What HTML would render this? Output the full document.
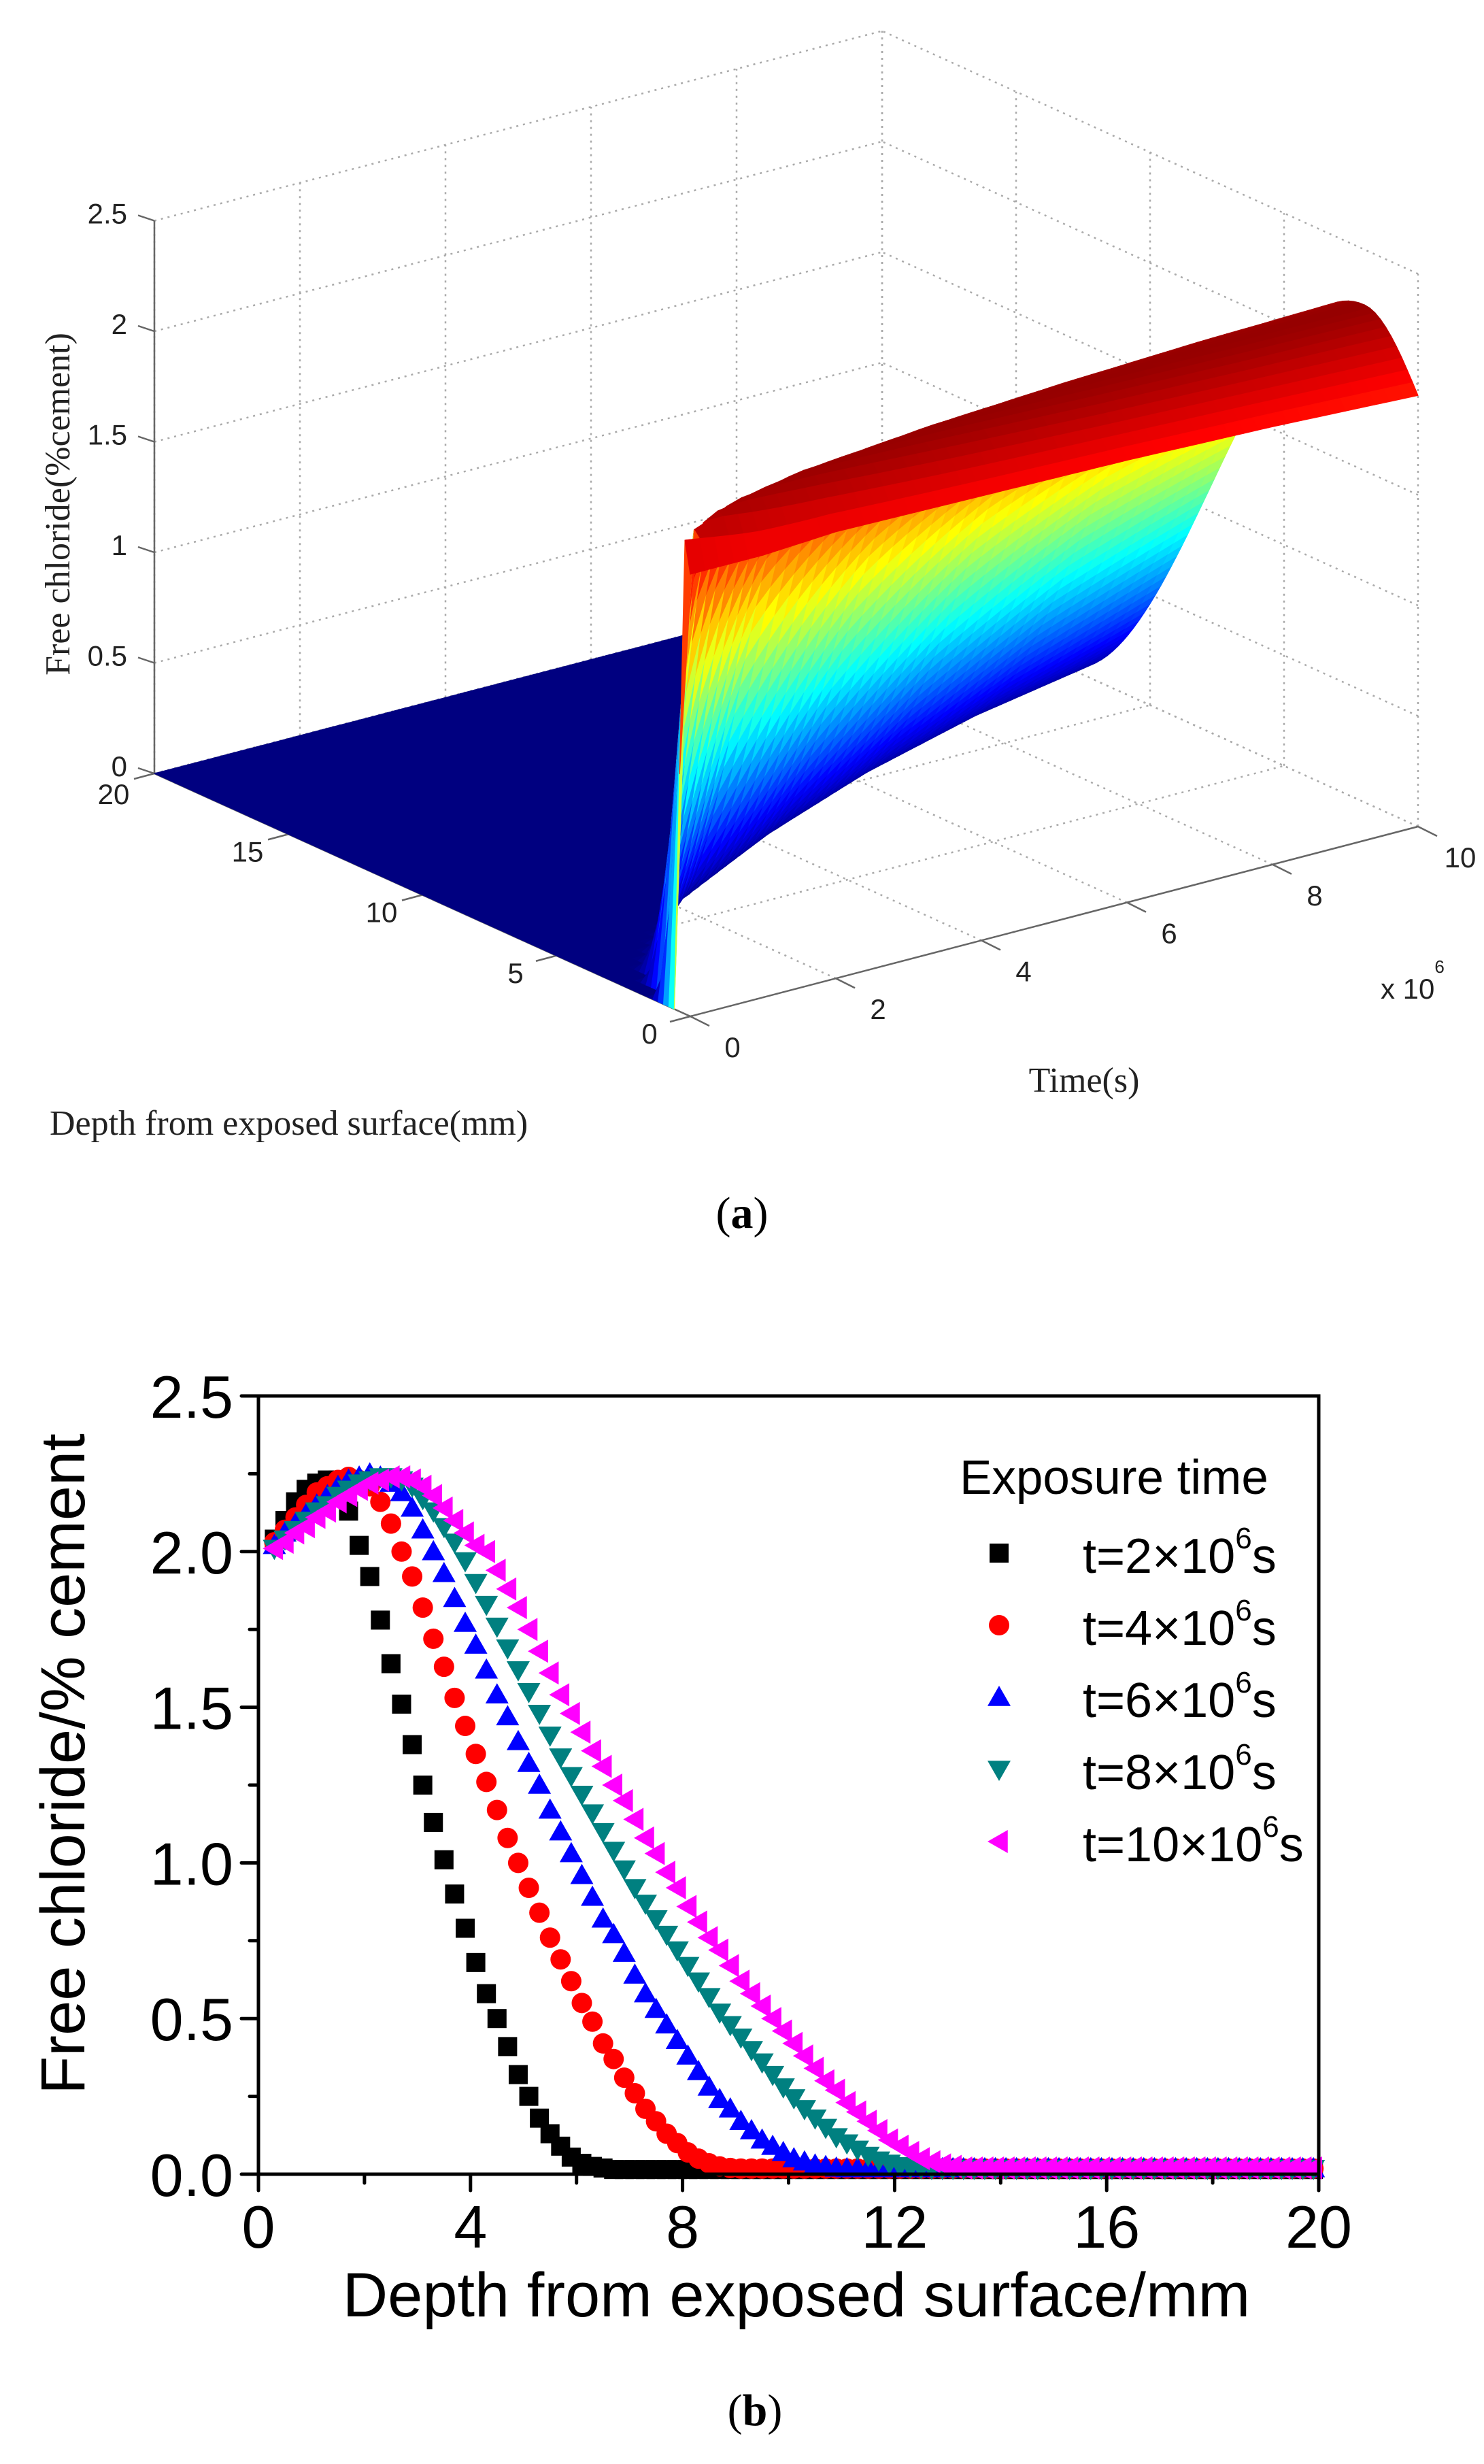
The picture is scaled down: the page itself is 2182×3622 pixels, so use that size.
<!DOCTYPE html>
<html><head><meta charset="utf-8">
<style>
html,body{margin:0;padding:0;background:#fff;}
svg{display:block;}
</style></head>
<body>
<svg id="fig" width="2182" height="3622" viewBox="0 0 2182 3622" xmlns="http://www.w3.org/2000/svg">
<rect x="0" y="0" width="2182" height="3622" fill="#fff"/>
<g id="plotA">
 <g id="aGrid"></g>
 <g id="aAxes"></g>
 <g id="aSurf"></g>
 <g id="aLabels" font-family="Liberation Sans, sans-serif" font-size="42" fill="#222"></g>
 <text transform="translate(102,741) rotate(-90)" text-anchor="middle" font-family="Liberation Serif, serif" font-size="52" fill="#222">Free chloride(%cement)</text>
 <text x="73" y="1668" font-family="Liberation Serif, serif" font-size="52" fill="#222">Depth from exposed surface(mm)</text>
 <text x="1594" y="1605" text-anchor="middle" font-family="Liberation Serif, serif" font-size="52" fill="#222">Time(s)</text>
 <text x="2030" y="1468" font-family="Liberation Sans, sans-serif" font-size="42" fill="#222">x 10<tspan font-size="26" dy="-38">6</tspan></text>
 <text x="1091" y="1805" text-anchor="middle" font-family="Liberation Serif, serif" font-size="66" fill="#000">(<tspan font-weight="bold">a</tspan>)</text>
</g>
<g id="plotB">
 <g id="bMarks"></g>
 <g id="bAxes"></g>
 <g id="bLegend"></g>
 <text transform="translate(124,2593) rotate(-90)" text-anchor="middle" font-family="Liberation Sans, sans-serif" font-size="92" fill="#000">Free chloride/% cement</text>
 <text x="1171" y="3405" text-anchor="middle" font-family="Liberation Sans, sans-serif" font-size="92" fill="#000">Depth from exposed surface/mm</text>
 <text x="1110" y="3565" text-anchor="middle" font-family="Liberation Serif, serif" font-size="66" fill="#000">(<tspan font-weight="bold">b</tspan>)</text>
</g>
</svg>
<script>
// ---------- Plot (b) data ----------
const depths = [0.3,0.5,0.7,0.9,1.1,1.3,1.5,1.7,1.9,2.1,2.3,2.5,2.7,2.9,3.1,3.3,3.5,3.7,3.9,4.1,4.3,4.5,4.7,4.9,5.1,5.3,5.5,5.7,5.9,6.1,6.3,6.5,6.7,6.9,7.1,7.3,7.5,7.7,7.9,8.1,8.3,8.5,8.7,8.9,9.1,9.3,9.5,9.7,9.9,10.1,10.3,10.5,10.7,10.9,11.1,11.3,11.5,11.7,11.9,12.1,12.3,12.5,12.7,12.9,13.1,13.3,13.5,13.7,13.9,14.1,14.3,14.5,14.7,14.9,15.1,15.3,15.5,15.7,15.9,16.1,16.3,16.5,16.7,16.9,17.1,17.3,17.5,17.7,17.9,18.1,18.3,18.5,18.7,18.9,19.1,19.3,19.5,19.7,19.9];
const seriesT2 = [2.04,2.10,2.16,2.20,2.22,2.23,2.23,2.13,2.02,1.92,1.78,1.64,1.51,1.38,1.25,1.13,1.01,0.90,0.79,0.68,0.58,0.50,0.41,0.32,0.25,0.18,0.13,0.09,0.055,0.035,0.025,0.02,
0.015,0.015,0.015,0.015,0.015,0.015,0.015,0.015,0.015,0.015,0.015,0.015,0.015,0.015,0.015,0.015,0.015,0.015,0.015,0.015,0.015,0.015,0.015,0.015,0.015,0.015,0.015,0.015,0.015,0.015,0.015,0.015,0.015,0.015,0.015,0.015,0.015,0.015,0.015,0.015,0.015,0.015,0.015,0.015,0.015,0.015,0.015,0.015,0.015,0.015,0.015,0.015,0.015,0.015,0.015,0.015,0.015,0.015,0.015,0.015,0.015,0.015,0.015,0.015,0.015,0.015,0.015];
const seriesT4 = [2.03,2.07,2.11,2.15,2.19,2.21,2.23,2.24,2.23,2.21,2.16,2.09,2.00,1.92,1.82,1.72,1.63,1.53,1.44,1.35,1.26,1.17,1.08,1.00,0.92,0.84,0.76,0.69,0.62,0.55,0.49,0.42,0.37,0.31,0.26,0.21,0.17,0.13,0.10,0.07,0.05,0.035,0.025,0.02,
0.018,0.018,0.018,0.018,0.018,0.018,0.018,0.018,0.018,0.018,0.018,0.018,0.018,0.018,0.018,0.018,0.018,0.018,0.018,0.018,0.018,0.018,0.018,0.018,0.018,0.018,0.018,0.018,0.018,0.018,0.018,0.018,0.018,0.018,0.018,0.018,0.018,0.018,0.018,0.018,0.018,0.018,0.018,0.018,0.018,0.018,0.018,0.018,0.018,0.018,0.018,0.018,0.018,0.018,0.018];
const seriesT6 = [2.02,2.06,2.09,2.12,2.15,2.18,2.21,2.23,2.24,2.25,2.24,2.22,2.19,2.14,2.07,2.00,1.93,1.85,1.77,1.70,1.62,1.54,1.47,1.39,1.32,1.25,1.17,1.10,1.03,0.96,0.89,0.82,0.77,0.71,0.64,0.58,0.53,0.48,0.43,0.38,0.33,0.28,0.24,0.21,0.17,0.14,0.11,0.09,0.07,0.05,0.04,0.03,0.025,0.02,
0.018,0.018,0.018,0.018,0.018,0.018,0.018,0.018,0.018,0.018,0.018,0.018,0.018,0.018,0.018,0.018,0.018,0.018,0.018,0.018,0.018,0.018,0.018,0.018,0.018,0.018,0.018,0.018,0.018,0.018,0.018,0.018,0.018,0.018,0.018,0.018,0.018,0.018,0.018,0.018,0.018,0.018,0.018,0.018,0.018];
const seriesT8 = [2.01,2.04,2.07,2.10,2.13,2.15,2.18,2.20,2.22,2.23,2.24,2.24,2.23,2.21,2.17,2.13,2.08,
2.03,1.97,1.90,1.83,1.76,1.69,1.62,1.55,1.48,1.41,1.34,1.28,1.22,1.16,1.10,1.04,0.98,0.92,0.87,0.82,0.77,0.72,0.67,0.62,0.57,0.52,0.48,0.44,0.40,0.36,0.32,0.28,0.245,0.21,0.18,0.15,0.12,0.10,0.08,0.06,0.045,0.035,0.027,0.022,0.02,
0.018,0.018,0.018,0.018,0.018,0.018,0.018,0.018,0.018,0.018,0.018,0.018,0.018,0.018,0.018,0.018,0.018,0.018,0.018,0.018,0.018,0.018,0.018,0.018,0.018,0.018,0.018,0.018,0.018,0.018,0.018,0.018,0.018,0.018,0.018,0.018,0.018];
const seriesT10 = [2.01,2.03,2.06,2.08,2.11,2.13,2.16,2.18,2.20,2.22,2.23,2.24,2.24,2.23,2.21,2.18,2.14,2.10,2.06,2.02,2.00,1.94,1.88,1.82,1.75,1.68,1.61,1.54,1.48,1.42,1.36,1.31,1.25,1.20,1.14,1.08,1.03,0.97,0.92,0.86,0.81,0.76,0.72,0.67,0.62,0.58,0.54,0.50,0.46,0.42,0.38,0.34,0.30,0.27,0.23,0.20,0.17,0.14,0.11,0.09,0.07,0.05,0.04,0.03,0.025,0.02,0.02,0.02,0.02,0.02,
0.02,0.02,0.02,0.02,0.02,0.02,0.02,0.02,0.02,0.02,0.02,0.02,0.02,0.02,0.02,0.02,0.02,0.02,0.02,0.02,0.02,0.02,0.02,0.02,0.02,0.02,0.02,0.02,0.02];
const seriesNames = ["t=2","t=4","t=6","t=8","t=10"];
const xTicks = [0,4,8,12,16,20];
const yTicks = [0.0,0.5,1.0,1.5,2.0,2.5];
const yTickLabels = ["0.0","0.5","1.0","1.5","2.0","2.5"];

// ---------- Plot (a) surface data ----------
const surfTimes = [0,0.5,1,2,4,6,8,10];
const surfEdge = [2.0,2.0,2.0,2.02,2.01,2.0,1.98,1.95];
const surfPeak = [2.15,2.2,2.22,2.24,2.25,2.25,2.25,2.25];
const surfPeakDepth = [0.25,0.5,0.7,1.0,1.4,1.7,1.9,2.0];
const surfZeroDepth = [0.55,3.2,4.3,6.2,8.6,10.6,12.2,13.4];
const zTicks3d = [0,0.5,1,1.5,2,2.5];
const zTickLabels3d = ["0","0.5","1","1.5","2","2.5"];
const dTicks3d = [0,5,10,15,20];
const tTicks3d = [0,2,4,6,8,10];

const NS = "http://www.w3.org/2000/svg";
function mk(tag, attrs, parent){
  const e = document.createElementNS(NS, tag);
  for (const k in attrs) e.setAttribute(k, attrs[k]);
  parent.appendChild(e);
  return e;
}

// ===== Plot (b) =====
const X0=380, X1=1939, Y0=3196, Y1=2052;
function xs(v){ return X0 + (v/20)*(X1-X0); }
function ys(v){ return Y0 - (v/2.5)*(Y0-Y1); }
const bMarks = document.getElementById('bMarks');
const bAxes = document.getElementById('bAxes');
const bLegend = document.getElementById('bLegend');
const colors = ["#000000","#ff0000","#0000ff","#008080","#ff00ff"];
const shapes = ["square","circle","up","down","left"];
const allSeries = [seriesT2, seriesT4, seriesT6, seriesT8, seriesT10];

function marker(shape, cx, cy, color, parent){
  const s = 14;
  let e;
  if (shape==="square") e = mk('rect',{x:cx-s,y:cy-s,width:2*s,height:2*s,fill:color},parent);
  else if (shape==="circle") e = mk('circle',{cx:cx,cy:cy,r:s+1,fill:color},parent);
  else {
    let pts;
    const r=17;
    if (shape==="up") pts=[[cx,cy-r],[cx+r,cy+r*0.75],[cx-r,cy+r*0.75]];
    else if (shape==="down") pts=[[cx,cy+r],[cx+r,cy-r*0.75],[cx-r,cy-r*0.75]];
    else pts=[[cx-r,cy],[cx+r*0.75,cy-r],[cx+r*0.75,cy+r]];
    e = mk('polygon',{points:pts.map(p=>p.join(',')).join(' '),fill:color},parent);
  }
  return e;
}

allSeries.forEach((ser, si) => {
  const g = mk('g',{},bMarks);
  
  
  const n = Math.min(ser.length, depths.length);
  for (let i=0;i<n;i++){
    const m = marker(shapes[si], xs(depths[i]), ys(ser[i]), colors[si], g);
    
    
  }
});

const frame = mk('rect',{x:X0,y:Y1,width:X1-X0,height:Y0-Y1,fill:'none',stroke:'#000','stroke-width':5},bAxes);


for (let v=0; v<=20.001; v+=2){
  const major = Math.abs(v/4-Math.round(v/4))<1e-6;
  const t = mk('line',{x1:xs(v),y1:Y0,x2:xs(v),y2:Y0+(major?24:13),stroke:'#000','stroke-width':5,'stroke-linecap':'round'},bAxes);
  
  
}
for (let v=0; v<=2.5001; v+=0.25){
  const major = Math.abs(v/0.5-Math.round(v/0.5))<1e-6;
  const t = mk('line',{x1:X0,y1:ys(v),x2:X0-(major?25:13),y2:ys(v),stroke:'#000','stroke-width':5,'stroke-linecap':'round'},bAxes);
  
  
}
xTicks.forEach(v=>{
  const t = mk('text',{x:xs(v),y:3304,'text-anchor':'middle','font-family':'Liberation Sans, sans-serif','font-size':88},bAxes);
  t.textContent = String(v);
  
  
});
yTicks.forEach((v,i)=>{
  const t = mk('text',{x:343,y:ys(v)+32,'text-anchor':'end','font-family':'Liberation Sans, sans-serif','font-size':88},bAxes);
  t.textContent = yTickLabels[i];
  
  
});

const lt = mk('text',{x:1411,y:2196,'font-family':'Liberation Sans, sans-serif','font-size':71},bLegend);
lt.textContent = 'Exposure time';


const legendNums = ["2","4","6","8","10"];
legendNums.forEach((num,i)=>{
  const cy = 2283 + i*106;
  const g = mk('g',{},bLegend);
  
  
  marker(shapes[i], 1469, cy, colors[i], g);
  const t = mk('text',{x:1592,y:cy+29,'font-family':'Liberation Sans, sans-serif','font-size':72},g);
  t.appendChild(document.createTextNode('t=' + num + '\u00D710'));
  const sup = mk('tspan',{'font-size':44,dy:-36},t);
  sup.textContent = '6';
  const s = mk('tspan',{dy:36},t);
  s.textContent = 's';
});

// ===== Plot (a) =====
const O=[1015,1494], DV=[-39.4,-17.85], TV=[107,-27.9], ZV=325;
function P(d,t,z){ return [O[0]+DV[0]*d+TV[0]*t, O[1]+DV[1]*d+TV[1]*t-ZV*z]; }
const aGrid = document.getElementById('aGrid');
const aAxes = document.getElementById('aAxes');
const aSurf = document.getElementById('aSurf');
const aLabels = document.getElementById('aLabels');
function dline(a,b,parent,name,solid){
  const l = mk('line',{x1:a[0],y1:a[1],x2:b[0],y2:b[1],stroke:solid?'#666':'#aaa','stroke-width':2.5,'stroke-dasharray':solid?'none':'3 7'},parent);
  
  
}
zTicks3d.forEach(z=>{
  dline(P(20,0,z),P(20,10,z),aGrid,'grid-line-z',false);
  dline(P(0,10,z),P(20,10,z),aGrid,'grid-line-z',false);
});
tTicks3d.forEach(t=>{
  dline(P(20,t,0),P(20,t,2.5),aGrid,'grid-line-t',false);
  dline(P(0,t,0),P(20,t,0),aGrid,'grid-line-t',false);
});
dTicks3d.forEach(d=>{
  dline(P(d,10,0),P(d,10,2.5),aGrid,'grid-line-d',false);
  dline(P(d,0,0),P(d,10,0),aGrid,'grid-line-d',false);
});
dline(P(20,0,0),P(20,0,2.5),aAxes,'z-axis',true);
dline(P(20,0,0),P(0,0,0),aAxes,'depth-axis',true);
dline(P(0,0,0),P(0,10,0),aAxes,'time-axis',true);
zTicks3d.forEach((z,i)=>{
  const p=P(20,0,z);
  dline(p,[p[0]-24,p[1]-8],aAxes,'z-tick',true);
  const t = mk('text',{x:p[0]-40,y:p[1]+4,'text-anchor':'end'},aLabels);
  t.textContent = zTickLabels3d[i];
  
  
});
dTicks3d.forEach(d=>{
  const p=P(d,0,0);
  dline(p,[p[0]-30,p[1]+8],aAxes,'depth-tick',true);
  const t = mk('text',{x:p[0]-60,y:p[1]+ (d===20?45:40),'text-anchor':'middle'},aLabels);
  t.textContent = String(d);
  
  
});
tTicks3d.forEach(tt=>{
  const p=P(0,tt,0);
  dline(p,[p[0]+28,p[1]+14],aAxes,'time-tick',true);
  const t = mk('text',{x:p[0]+62,y:p[1]+60,'text-anchor':'middle'},aLabels);
  t.textContent = String(tt);
  
  
});

function interpParam(arr, t){
  for (let i=0;i<surfTimes.length-1;i++){
    if (t<=surfTimes[i+1]){
      const f=(t-surfTimes[i])/(surfTimes[i+1]-surfTimes[i]);
      return arr[i]+(arr[i+1]-arr[i])*f;
    }
  }
  return arr[arr.length-1];
}
function Z(d,t){
  const cs=interpParam(surfEdge,t), pk=interpParam(surfPeak,t), dp=interpParam(surfPeakDepth,t), d0=interpParam(surfZeroDepth,t);
  if (d<=dp) return cs+(pk-cs)*Math.sin(Math.PI/2*d/dp);
  if (d<d0) return pk*(0.5+0.5*Math.cos(Math.PI*(d-dp)/(d0-dp)));
  return 0;
}
function jet(v){
  v=Math.max(0,Math.min(1,v));
  const c=x=>Math.round(255*Math.max(0,Math.min(1,x)));
  return 'rgb('+c(1.5-Math.abs(4*v-3))+','+c(1.5-Math.abs(4*v-2))+','+c(1.5-Math.abs(4*v-1))+')';
}
const dStepsArr=[], tStepsArr=[];
for (let i=0;i<=100;i++) dStepsArr.push(i*0.2);
for (let j=0;j<=50;j++) tStepsArr.push(j*0.2);
const zGrid = tStepsArr.map(t=>dStepsArr.map(d=>Z(d,t)));
for (let i=dStepsArr.length-2;i>=0;i--){
  for (let j=tStepsArr.length-2;j>=0;j--){
    const z00=zGrid[j][i], z10=zGrid[j][i+1], z01=zGrid[j+1][i], z11=zGrid[j+1][i+1];
    const d0=dStepsArr[i], d1=dStepsArr[i+1], t0=tStepsArr[j], t1=tStepsArr[j+1];
    const pts=[P(d0,t0,z00),P(d1,t0,z10),P(d1,t1,z11),P(d0,t1,z01)];
    const col=jet((z00+z10+z01+z11)/4/2.3);
    const q = mk('polygon',{points:pts.map(p=>p[0].toFixed(1)+','+p[1].toFixed(1)).join(' '),fill:col,stroke:col,'stroke-width':1.2,'stroke-linejoin':'round'},aSurf);
    
    
  }
}
</script>
</body></html>
